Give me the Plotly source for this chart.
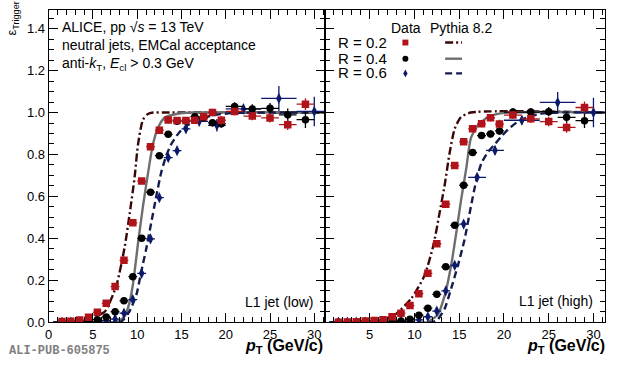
import plotly.graph_objects as go

# ---------------- data : L1 jet (low) ----------------
LOW_R02_X = [1.5, 2.5, 3.5, 4.5, 5.5, 6.5, 7.5, 8.5, 9.5, 10.5, 11.5, 12.5, 13.5, 14.5, 15.5, 16.5, 17.5, 18.5, 19.5, 21, 23, 25, 27, 29]
LOW_R02_XERR = [0.5, 0.5, 0.5, 0.5, 0.5, 0.5, 0.5, 0.5, 0.5, 0.5, 0.5, 0.5, 0.5, 0.5, 0.5, 0.5, 0.5, 0.5, 0.5, 1, 1, 1, 1, 1]
LOW_R02_Y = [0.003, 0.005, 0.010, 0.023, 0.047, 0.090, 0.170, 0.295, 0.474, 0.673, 0.837, 0.916, 0.964, 0.962, 0.962, 0.963, 0.980, 1.000, 0.963, 1.005, 0.983, 0.974, 0.942, 1.040]
LOW_R02_YERR = [0.002, 0.002, 0.003, 0.004, 0.005, 0.006, 0.008, 0.010, 0.012, 0.012, 0.012, 0.012, 0.012, 0.013, 0.014, 0.015, 0.017, 0.018, 0.020, 0.018, 0.020, 0.022, 0.025, 0.028]

LOW_R04_X = [1.5, 2.5, 3.5, 4.5, 5.5, 6.5, 7.5, 8.5, 9.5, 10.5, 11.5, 12.5, 13.5, 14.5, 15.5, 16.5, 17.5, 18.5, 19.5, 21, 23, 25, 27, 29]
LOW_R04_XERR = [0.5, 0.5, 0.5, 0.5, 0.5, 0.5, 0.5, 0.5, 0.5, 0.5, 0.5, 0.5, 0.5, 0.5, 0.5, 0.5, 0.5, 0.5, 0.5, 1, 1, 1, 1, 1]
LOW_R04_Y = [0.001, 0.002, 0.004, 0.008, 0.012, 0.025, 0.050, 0.102, 0.217, 0.400, 0.620, 0.794, 0.896, 0.958, 0.960, 0.980, 0.975, 0.951, 0.947, 1.029, 1.017, 1.020, 0.989, 0.966]
LOW_R04_YERR = [0.001, 0.002, 0.002, 0.003, 0.004, 0.005, 0.006, 0.008, 0.010, 0.012, 0.012, 0.012, 0.012, 0.012, 0.013, 0.015, 0.017, 0.018, 0.020, 0.020, 0.022, 0.025, 0.030, 0.040]

LOW_R06_X = [1.5, 2.5, 3.5, 4.5, 5.5, 6.5, 7.5, 8.5, 9.5, 10.5, 11.5, 12.5, 13.5, 14.5, 15.5, 17, 19, 22, 26, 30]
LOW_R06_XERR = [0.5, 0.5, 0.5, 0.5, 0.5, 0.5, 0.5, 0.5, 0.5, 0.5, 0.5, 0.5, 0.5, 0.5, 0.5, 1, 1, 2, 2, 2]
LOW_R06_Y = [0.000, 0.000, 0.000, 0.001, 0.002, 0.008, 0.015, 0.043, 0.108, 0.233, 0.397, 0.594, 0.785, 0.818, 0.922, 0.958, 0.939, 1.017, 1.067, 1.005]
LOW_R06_YERR = [0.001, 0.001, 0.001, 0.002, 0.003, 0.004, 0.005, 0.007, 0.010, 0.012, 0.014, 0.015, 0.015, 0.015, 0.016, 0.020, 0.030, 0.025, 0.060, 0.070]

# Pythia 8.2 curves (low)
LOW_PY_R02_PT = [0.5, 3.0, 5.0, 6.35, 7.65, 8.6, 9.15, 9.7, 10.08, 10.64, 11.2, 11.8, 13.0, 31.2]
LOW_PY_R02_EFF = [0.0, 0.003, 0.02, 0.051, 0.176, 0.363, 0.519, 0.69, 0.846, 0.965, 0.993, 1.0, 1.0, 1.0]
LOW_PY_R04_PT = [0.5, 7.5, 8.0, 8.6, 9.1, 9.5, 10.1, 10.64, 11.2, 11.76, 12.3, 13.07, 14.4, 16.4, 31.2]
LOW_PY_R04_EFF = [0.0, 0.0, 0.008, 0.03, 0.09, 0.176, 0.38, 0.55, 0.706, 0.846, 0.923, 0.975, 0.993, 1.0, 1.0]
LOW_PY_R06_PT = [0.5, 8.0, 8.4, 9.1, 9.9, 10.45, 11.0, 11.57, 12.13, 12.7, 13.25, 13.8, 14.74, 15.7, 17.0, 19.0, 21.0, 31.2]
LOW_PY_R06_EFF = [0.0, 0.0, 0.01, 0.05, 0.13, 0.24, 0.347, 0.472, 0.596, 0.713, 0.791, 0.846, 0.905, 0.94, 0.97, 0.99, 0.998, 1.0]

# ---------------- data : L1 jet (high) ----------------
HIGH_R02_X = [1.5, 2.5, 3.5, 4.5, 5.5, 6.5, 7.5, 8.5, 9.5, 10.5, 11.5, 12.5, 13.5, 14.5, 15.5, 16.5, 17.5, 18.5, 19.5, 21, 23, 25, 27, 29]
HIGH_R02_XERR = [0.5, 0.5, 0.5, 0.5, 0.5, 0.5, 0.5, 0.5, 0.5, 0.5, 0.5, 0.5, 0.5, 0.5, 0.5, 0.5, 0.5, 0.5, 0.5, 1, 1, 1, 1, 1]
HIGH_R02_Y = [0.000, 0.001, 0.002, 0.006, 0.008, 0.011, 0.026, 0.043, 0.079, 0.136, 0.233, 0.374, 0.563, 0.747, 0.860, 0.922, 0.946, 0.975, 0.945, 0.988, 0.970, 0.957, 0.929, 1.024]
HIGH_R02_YERR = [0.001, 0.001, 0.002, 0.002, 0.003, 0.003, 0.004, 0.006, 0.008, 0.010, 0.012, 0.013, 0.014, 0.014, 0.014, 0.015, 0.016, 0.018, 0.020, 0.018, 0.020, 0.022, 0.025, 0.028]

HIGH_R04_X = [1.5, 2.5, 3.5, 4.5, 5.5, 6.5, 7.5, 8.5, 9.5, 10.5, 11.5, 12.5, 13.5, 14.5, 15.5, 16.5, 17.5, 18.5, 19.5, 21, 23, 25, 27, 29]
HIGH_R04_XERR = [0.5, 0.5, 0.5, 0.5, 0.5, 0.5, 0.5, 0.5, 0.5, 0.5, 0.5, 0.5, 0.5, 0.5, 0.5, 0.5, 0.5, 0.5, 0.5, 1, 1, 1, 1, 1]
HIGH_R04_Y = [0.000, 0.000, 0.000, 0.000, 0.001, 0.001, 0.003, 0.006, 0.014, 0.033, 0.067, 0.133, 0.264, 0.462, 0.653, 0.809, 0.890, 0.898, 0.912, 1.002, 1.002, 1.004, 0.977, 0.961]
HIGH_R04_YERR = [0.001, 0.001, 0.001, 0.001, 0.001, 0.002, 0.002, 0.003, 0.004, 0.006, 0.008, 0.010, 0.012, 0.014, 0.014, 0.015, 0.016, 0.017, 0.018, 0.018, 0.020, 0.022, 0.028, 0.035]

HIGH_R06_X = [1.5, 2.5, 3.5, 4.5, 5.5, 6.5, 7.5, 8.5, 9.5, 10.5, 11.5, 12.5, 13.5, 14.5, 15.5, 17, 19, 22, 26, 30]
HIGH_R06_XERR = [0.5, 0.5, 0.5, 0.5, 0.5, 0.5, 0.5, 0.5, 0.5, 0.5, 0.5, 0.5, 0.5, 0.5, 0.5, 1, 1, 2, 2, 2]
HIGH_R06_Y = [0.000, 0.000, 0.000, 0.000, 0.000, 0.000, 0.001, 0.002, 0.004, 0.011, 0.026, 0.053, 0.149, 0.271, 0.468, 0.691, 0.819, 0.963, 1.048, 1.000]
HIGH_R06_YERR = [0.001, 0.001, 0.001, 0.001, 0.001, 0.001, 0.001, 0.002, 0.003, 0.004, 0.006, 0.008, 0.012, 0.014, 0.015, 0.016, 0.020, 0.020, 0.050, 0.070]

# Pythia 8.2 curves (high)
HIGH_PY_R02_PT = [0.5, 6.0, 7.8, 9.67, 11.1, 12.1, 12.8, 13.4, 13.9, 14.5, 15.2, 16.3, 31.3]
HIGH_PY_R02_EFF = [0.0, 0.003, 0.035, 0.114, 0.22, 0.363, 0.519, 0.66, 0.8, 0.923, 0.978, 1.0, 1.0]
HIGH_PY_R04_PT = [0.5, 11.5, 11.9, 12.6, 13.4, 14.1, 14.67, 15.2, 15.8, 16.3, 17.1, 18.2, 20.0, 31.3]
HIGH_PY_R04_EFF = [0.0, 0.0, 0.012, 0.035, 0.13, 0.27, 0.425, 0.58, 0.736, 0.877, 0.94, 0.978, 0.998, 1.0]
HIGH_PY_R06_PT = [0.5, 12.0, 12.6, 13.4, 14.1, 14.85, 15.6, 16.3, 16.9, 17.5, 18.2, 19.0, 19.8, 20.6, 21.5, 22.5, 24.0, 26.0, 31.3]
HIGH_PY_R06_EFF = [0.0, 0.0, 0.012, 0.067, 0.16, 0.27, 0.394, 0.55, 0.674, 0.76, 0.81, 0.85, 0.89, 0.925, 0.955, 0.975, 0.993, 1.0, 1.0]

X_TICKS_LOW = [0, 5, 10, 15, 20, 25, 30]
X_TICKS_HIGH = [5, 10, 15, 20, 25, 30]
Y_TICKS = [0.0, 0.2, 0.4, 0.6, 0.8, 1.0, 1.2, 1.4]

# ---------------- styles ----------------
W, H = 620, 370
FONT = "Liberation Sans, Arial, Helvetica, sans-serif"
C_R02 = "#b0141a"
C_R04 = "#000000"
C_R06 = "#0d1a6b"
C_PY02 = "#3a0606"
C_PY04 = "#6e6e6e"
C_PY06 = "#141c4e"
DASH02 = "8px,3px,2px,3px"
DASH06 = "7px,4px"


def px(x):
    return x / W


def py(y):
    return 1 - y / H


fig = go.Figure()


def add_data(x, xe, y, ye, color, symbol, size, xa, ya):
    fig.add_trace(go.Scatter(
        x=x, y=y, mode="markers", xaxis=xa, yaxis=ya, showlegend=False,
        marker=dict(symbol=symbol, size=size, color=color, line=dict(width=0)),
        error_x=dict(type="data", array=xe, width=0, thickness=1.3, color=color),
        error_y=dict(type="data", array=ye, width=0, thickness=1.3, color=color),
        cliponaxis=True, hoverinfo="skip",
    ))


def add_curve(x, y, color, dash, xa, ya):
    fig.add_trace(go.Scatter(
        x=x, y=y, mode="lines", xaxis=xa, yaxis=ya, showlegend=False, hoverinfo="skip",
        line=dict(color=color, width=2.4, dash=dash, shape="spline", smoothing=0.6),
    ))


for xa, ya, d in [("x", "y", (LOW_PY_R02_PT, LOW_PY_R02_EFF, LOW_PY_R04_PT, LOW_PY_R04_EFF, LOW_PY_R06_PT, LOW_PY_R06_EFF)),
                  ("x2", "y2", (HIGH_PY_R02_PT, HIGH_PY_R02_EFF, HIGH_PY_R04_PT, HIGH_PY_R04_EFF, HIGH_PY_R06_PT, HIGH_PY_R06_EFF))]:
    add_curve(d[0], d[1], C_PY02, DASH02, xa, ya)
    add_curve(d[2], d[3], C_PY04, "solid", xa, ya)
    add_curve(d[4], d[5], C_PY06, DASH06, xa, ya)

add_data(LOW_R06_X, LOW_R06_XERR, LOW_R06_Y, LOW_R06_YERR, C_R06, "diamond-tall", 8, "x", "y")
add_data(LOW_R04_X, LOW_R04_XERR, LOW_R04_Y, LOW_R04_YERR, C_R04, "circle", 7.5, "x", "y")
add_data(LOW_R02_X, LOW_R02_XERR, LOW_R02_Y, LOW_R02_YERR, C_R02, "square", 7.5, "x", "y")
add_data(HIGH_R06_X, HIGH_R06_XERR, HIGH_R06_Y, HIGH_R06_YERR, C_R06, "diamond-tall", 8, "x2", "y2")
add_data(HIGH_R04_X, HIGH_R04_XERR, HIGH_R04_Y, HIGH_R04_YERR, C_R04, "circle", 7.5, "x2", "y2")
add_data(HIGH_R02_X, HIGH_R02_XERR, HIGH_R02_Y, HIGH_R02_YERR, C_R02, "square", 7.5, "x2", "y2")

axis_common = dict(
    showgrid=False, zeroline=False, showline=True, linecolor="black", linewidth=1,
    ticks="inside", tickcolor="black", tickwidth=1, mirror="allticks",
    tickfont=dict(family=FONT, size=13, color="black"),
)

fig.update_layout(
    width=W, height=H, autosize=False,
    margin=dict(l=0, r=0, t=0, b=0),
    paper_bgcolor="white", plot_bgcolor="white",
    font=dict(family=FONT, color="black"),
    hovermode=False,
    xaxis=dict(domain=[px(45), px(323)], range=[0, 31.2], anchor="y",
               tickvals=X_TICKS_LOW, ticktext=[str(v) for v in X_TICKS_LOW], ticklen=9,
               minor=dict(dtick=1, ticklen=5, ticks="inside", tickcolor="black"), **axis_common),
    xaxis2=dict(domain=[px(323), px(605)], range=[0, 31.3], anchor="y2",
                tickvals=X_TICKS_HIGH, ticktext=[str(v) for v in X_TICKS_HIGH], ticklen=9,
                minor=dict(dtick=1, ticklen=5, ticks="inside", tickcolor="black"), **axis_common),
    yaxis=dict(domain=[py(329.3), py(10)], range=[0, 1.49], anchor="x",
               tickvals=Y_TICKS, ticktext=["%.1f" % v for v in Y_TICKS], ticklen=9,
               minor=dict(dtick=0.05, ticklen=5, ticks="inside", tickcolor="black"), **axis_common),
    yaxis2=dict(domain=[py(329.3), py(10)], range=[0, 1.49], anchor="x2",
                tickvals=Y_TICKS, showticklabels=False, ticklen=9,
                minor=dict(dtick=0.05, ticklen=5, ticks="inside", tickcolor="black"), **axis_common),
)

ann = []


def text(x, y, s, size=14, xanchor="left", color="black", family=FONT, angle=0):
    ann.append(dict(x=px(x), y=py(y), xref="paper", yref="paper", text=s, showarrow=False,
                    xanchor=xanchor, yanchor="middle", textangle=angle,
                    font=dict(family=family, size=size, color=color)))


text(56, 28, "ALICE, pp √<i>s</i> = 13 TeV")
text(56, 46.5, "neutral jets, EMCal acceptance")
text(56, 65, "anti-<i>k</i><sub>T</sub>, <i>E</i><sub>cl</sub> > 0.3 GeV")
text(313, 309, "L1 jet (low)", xanchor="right")
text(595, 308, "L1 jet (high)", xanchor="right")
text(387, 29, "Data")
text(427, 29, "Pythia 8.2")
text(334, 43.5, "R = 0.2", size=15)
text(334, 59.5, "R = 0.4", size=15)
text(334, 74.5, "R = 0.6", size=15)
text(323, 354, "<b><i>p</i><sub>T</sub> (GeV/c)</b>", size=16, xanchor="right")
text(607, 354, "<b><i>p</i><sub>T</sub> (GeV/c)</b>", size=16, xanchor="right")
text(3, 359, "<b>ALI-PUB-605875</b>", size=12, color="#808080", family="Liberation Mono, Courier New, monospace")
ann.append(dict(x=px(9), y=py(19), xref="paper", yref="paper", text="ε<sub>Trigger</sub>",
                showarrow=False, textangle=-90, xanchor="center", yanchor="middle",
                font=dict(family=FONT, size=13, color="black")))
fig.update_layout(annotations=ann)

# legend keys
shapes = []
mx = 404
shapes.append(dict(type="rect", xref="paper", yref="paper", x0=px(mx - 3), x1=px(mx + 3), y0=py(43.5 + 3), y1=py(43.5 - 3),
                   fillcolor=C_R02, line=dict(width=0)))
shapes.append(dict(type="circle", xref="paper", yref="paper", x0=px(mx - 3), x1=px(mx + 3), y0=py(60 + 3), y1=py(60 - 3),
                   fillcolor=C_R04, line=dict(width=0)))
dy = 75
shapes.append(dict(type="path", xref="paper", yref="paper",
                   path="M %f,%f L %f,%f L %f,%f L %f,%f Z" % (px(mx), py(dy - 4), px(mx + 2.2), py(dy), px(mx), py(dy + 4), px(mx - 2.2), py(dy)),
                   fillcolor=C_R06, line=dict(width=0)))
for yy, col, dash in [(43.5, C_PY02, DASH02), (60, C_PY04, "solid"), (75, C_PY06, DASH06)]:
    shapes.append(dict(type="line", xref="paper", yref="paper", x0=px(444), x1=px(461), y0=py(yy), y1=py(yy),
                       line=dict(color=col, width=2.4, dash=dash)))
fig.update_layout(shapes=shapes)

fig.write_html("out.html", config={"displayModeBar": False, "staticPlot": True},
               post_script="document.body.style.margin='0';document.body.style.overflow='hidden';")
